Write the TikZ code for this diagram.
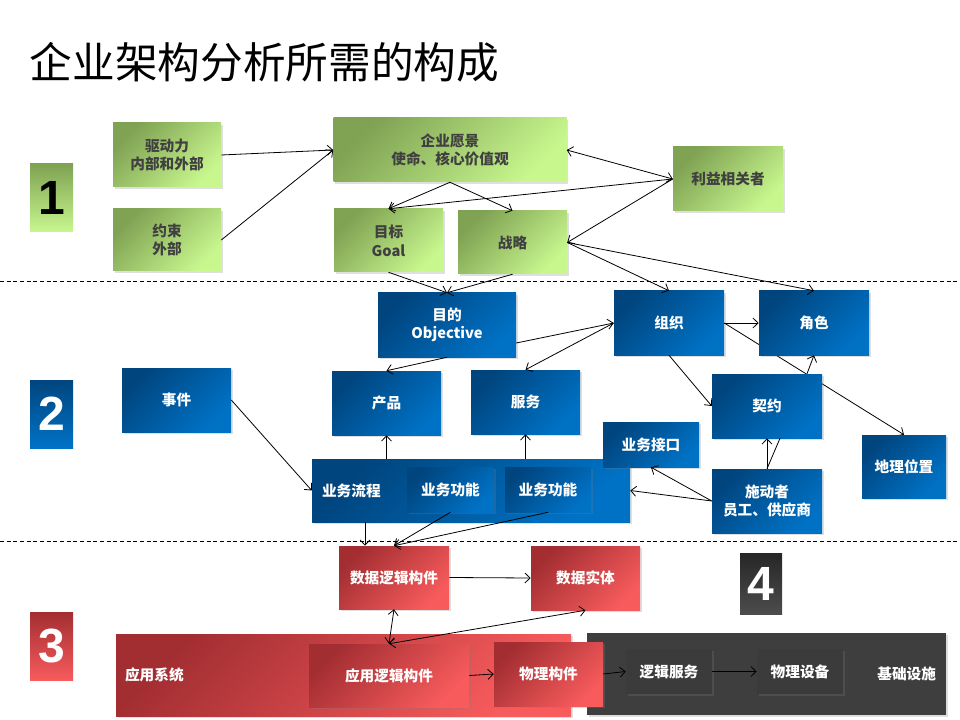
\documentclass[tikz,border=0pt]{standalone}
\usepackage{fontspec}
\setmainfont{Noto Sans CJK SC}
\newfontfamily\numfont{Liberation Sans}
\usepackage{xcolor}
\definecolor{eagreenA}{HTML}{7FA253}
\definecolor{eagreenB}{HTML}{C8F78E}
\definecolor{eablueA}{HTML}{00457E}
\definecolor{eablueB}{HTML}{0072C6}
\definecolor{earedA}{HTML}{A32E32}
\definecolor{earedB}{HTML}{F75B5C}
\definecolor{eadark}{HTML}{3E3E3E}
\definecolor{eatext}{HTML}{404040}
\usetikzlibrary{arrows.meta,shadows,backgrounds,calc}

\begin{document}
\begin{tikzpicture}[
  x=0.75pt,y=-0.75pt,
  sz/.style 2 args={minimum width=#1*0.75pt,minimum height=#2*0.75pt},
  box/.style={rectangle,inner sep=2pt,align=center,font=\fontsize{11}{14}\selectfont\bfseries,
    drop shadow={shadow xshift=1.2pt,shadow yshift=-1.2pt,opacity=0.25}},
  greenbox/.style={box,top color=eagreenA,bottom color=eagreenB,shading angle=45,text=eatext},
  bluebox/.style={box,top color=eablueA,bottom color=eablueB,shading angle=45,text=white},
  redbox/.style={box,top color=earedA,bottom color=earedB,shading angle=45,text=white},
  darkbox/.style={box,fill=eadark,text=white},
  numbox/.style={rectangle,sz={43}{68},shading angle=45,font=\numfont\fontsize{36}{36}\selectfont\bfseries},
  arr/.style={-{Straight Barb[length=4pt,width=7.5pt]},line width=0.6pt},
  darr/.style={{Straight Barb[length=4pt,width=7.5pt]}-{Straight Barb[length=4pt,width=7.5pt]},line width=0.6pt},
  sepline/.style={line width=0.6pt,dash pattern=on 3pt off 2pt}
]
\useasboundingbox (0,0) rectangle (960,720);

\node[anchor=west,font=\fontsize{32}{36}\selectfont] (title) at (25,62) {企业架构分析所需的构成};

% layer separators
\draw[sepline] (0,281) -- (960,281);
\draw[sepline] (0,541) -- (960,541);

% layer numbers
\node[numbox,top color=eagreenA,bottom color=eagreenB,text=black] (n1) at (51.5,198) {1};
\node[numbox,top color=eablueA,bottom color=eablueB,text=white] (n2) at (51.5,414) {2};
\node[numbox,top color=earedA,bottom color=earedB,text=white] (n3) at (51.5,646) {3};
\node[numbox,sz={42}{61},top color=black!85,bottom color=black!70,text=white] (n4) at (761,583.5) {4};

% 1: motivation
\node[greenbox,sz={108}{64}] (drv) at (167,155) {驱动力\\内部和外部};
\node[greenbox,sz={108}{62}] (cons) at (167,240) {约束\\外部};
\node[greenbox,sz={233}{64}] (vis) at (450,150) {企业愿景\\使命、核心价值观};
\node[greenbox,sz={109}{63}] (goal) at (388.5,240.5) {目标\\Goal};
\node[greenbox,sz={109}{63}] (strat) at (512.5,242.5) {战略};
\node[greenbox,sz={110}{64}] (stake) at (728,179) {利益相关者};

% 2: business
\node[bluebox,sz={138}{64}] (obj) at (447,325) {目的\\Objective};
\node[bluebox,sz={110}{64}] (org) at (669,323) {组织};
\node[bluebox,sz={110}{64}] (role) at (814,323) {角色};
\node[bluebox,sz={109}{64}] (evt) at (176.5,400) {事件};
\node[bluebox,sz={109}{64}] (prod) at (386.5,403) {产品};
\node[bluebox,sz={109}{64}] (serv) at (525.5,402) {服务};
\node[bluebox,sz={110}{64}] (ctr) at (767,406) {契约};
\node[bluebox,sz={84}{63}] (geo) at (904,466.5) {地理位置};
\node[bluebox,minimum height=47.25pt,text width=223.5pt,inner xsep=7.5pt,align=left] (proc) at (471,490.5) {业务流程};
\node[bluebox,sz={87}{45}] (fn1) at (450.5,489.5) {业务功能};
\node[bluebox,sz={86}{45}] (fn2) at (548,489.5) {业务功能};
\node[bluebox,sz={96}{45}] (intf) at (651,444.5) {业务接口};
\node[bluebox,sz={110}{64}] (actor) at (767,501) {施动者\\员工、供应商};

% 3 and 4: data, application, technology
\node[redbox,sz={110}{63}] (dle) at (394,577.5) {数据逻辑构件};
\node[redbox,sz={109}{64}] (ent) at (585.5,578) {数据实体};
\node[darkbox,minimum height=61.5pt,text width=254.25pt,inner xsep=7.5pt,align=right] (infra) at (766.5,674) {基础设施};
\node[redbox,minimum height=61.5pt,text width=327.75pt,inner xsep=6.75pt,align=left] (app) at (343.5,675) {应用系统};
\node[redbox,sz={160}{63}] (ale) at (389,675.5) {应用逻辑构件};
\node[redbox,sz={109}{64}] (phy) at (548.5,674) {物理构件};
\node[darkbox,fill=black!77,sz={86}{45}] (lsvc) at (669,671.5) {逻辑服务};
\node[darkbox,fill=black!77,sz={86}{45}] (pdev) at (800,671.5) {物理设备};

% connectors
\draw[arr] (drv.east) -- (vis.west);
\draw[arr] (cons.east) -- (vis.west);
\draw[arr] (vis.south) -- (goal.north);
\draw[arr] (vis.south) -- (strat.north);
\draw[darr] (vis.east) -- (stake.west);
\draw[arr] (stake.west) -- (goal.north);
\draw[arr] (stake.west) -- (strat.east);
\draw[arr] (goal.south) -- (obj.north);
\draw[arr] (strat.south) -- (obj.north);
\draw[arr] (strat.east) -- (org.north);
\draw[arr] (strat.east) -- (role.north);
\draw[arr] ([yshift=-13.5pt]obj.east) -- (org.west);
\draw[arr] (org.west) -- (serv.north);
\draw[arr] (obj.south) -- (prod.north);
\draw[arr] (org.east) -- (role.west);
\begin{scope}[on background layer]
\draw[arr] (org.east) -- (geo.north);
\end{scope}
\draw[arr] (org.south) -- (ctr.west);
\draw[arr] ([xshift=30pt]ctr.north) -- (role.south);
\draw[arr] (actor.north) -- (ctr.south);
\draw[line width=0.6pt] ([xshift=9.75pt]ctr.south) -- (actor.north);
\draw[arr] (actor.west) -- (intf.south);
\draw[arr] (actor.west) -- (proc.east);
\draw[arr] (evt.east) -- (proc.west);
\draw[arr] (prod.south |- proc.north) -- (prod.south);
\draw[arr] (serv.south |- proc.north) -- (serv.south);
\coordinate (dlein) at ([xshift=-21.75pt]dle.north);
\draw[arr] (dlein |- proc.south) -- (dlein);
\draw[arr] (fn1.south) -- (dle.north);
\draw[arr] (fn2.south) -- (dle.north);
\draw[arr] (dle.east) -- (ent.west);
\draw[darr] (dle.south) -- (ale.north);
\draw[darr] (ale.north) -- (ent.south);
\draw[arr] (ale.east) -- (phy.west);
\draw[arr] (phy.east) -- (lsvc.west);
\draw[arr] (lsvc.east) -- (pdev.west);
\end{tikzpicture}
\end{document}
